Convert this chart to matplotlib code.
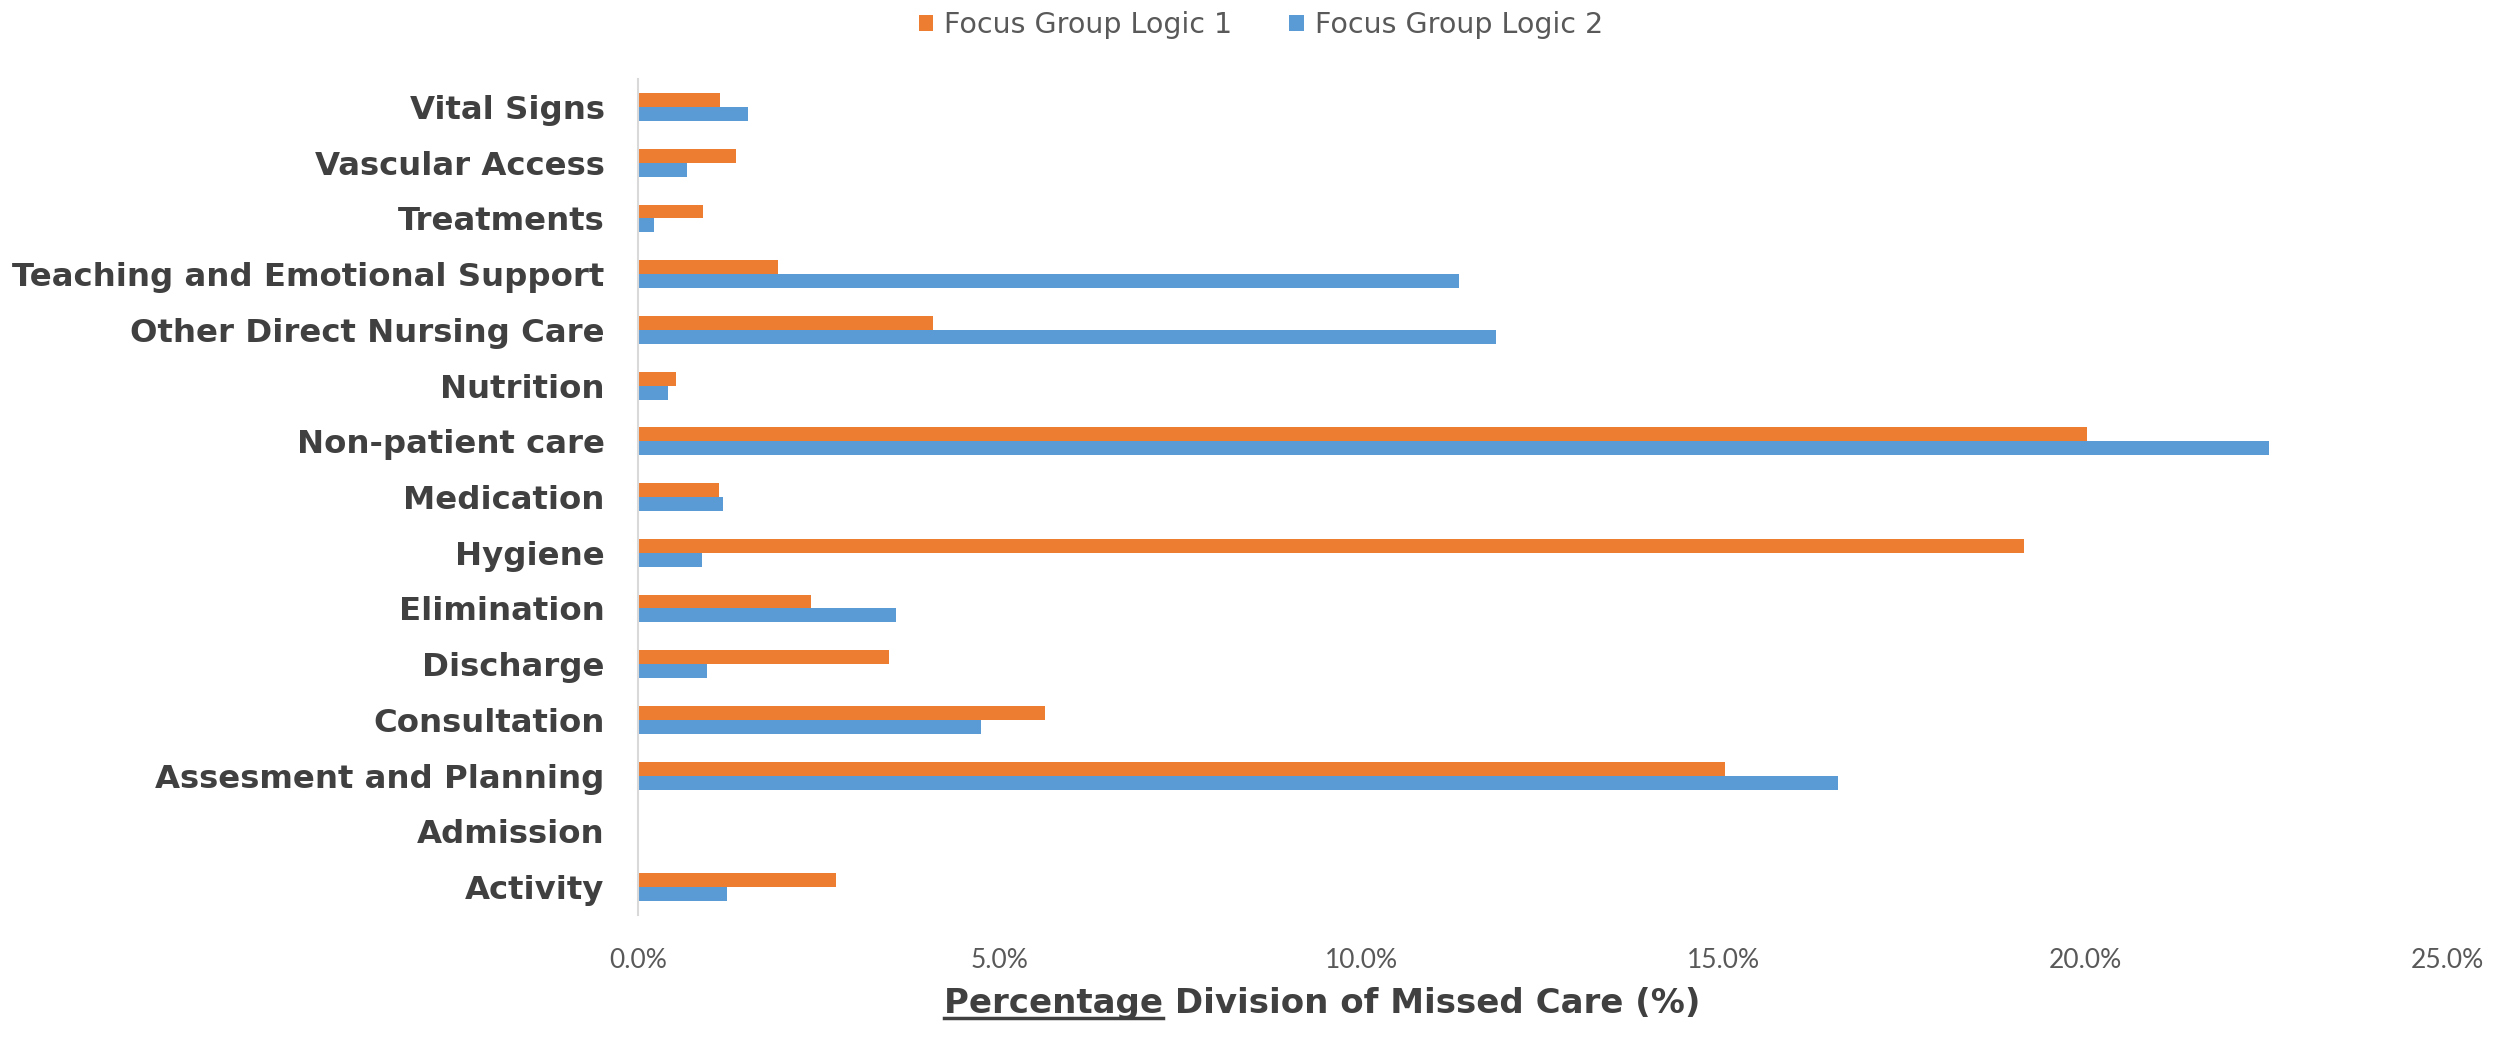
import numpy as np
import matplotlib.pyplot as plt
from matplotlib.lines import Line2D
from matplotlib.ticker import FuncFormatter

# Missed care categories, bottom to top
categories = ['Activity', 'Admission', 'Assesment and Planning', 'Consultation',
              'Discharge', 'Elimination', 'Hygiene', 'Medication',
              'Non-patient care', 'Nutrition', 'Other Direct Nursing Care',
              'Teaching and Emotional Support', 'Treatments', 'Vascular Access',
              'Vital Signs']

# share of missed care (%)
logic1 = [2.73, 0.0, 15.02, 5.62, 3.47, 2.39, 19.15, 1.12,
          20.02, 0.53, 4.07, 1.94, 0.90, 1.36, 1.14]
logic2 = [1.23, 0.0, 16.59, 4.74, 0.96, 3.57, 0.88, 1.17,
          22.54, 0.42, 11.86, 11.35, 0.22, 0.68, 1.52]

series_names = ['Focus Group Logic 1', 'Focus Group Logic 2']
xticks = [0, 5, 10, 15, 20, 25]

orange = '#ED7D31'
blue = '#5B9BD5'
dark = '#404040'
grey = '#595959'
wide_font = ['DejaVu Sans']

plt.rcParams['font.family'] = ['Lato', 'DejaVu Sans']

fig = plt.figure(figsize=(24.97, 10.42), dpi=100)
ax = fig.add_axes([0.2555, 0.122, 0.7245, 0.802])

y = np.arange(len(categories))
h = 0.25
ax.barh(y + h / 2, logic1, height=h, color=orange, label=series_names[0])
ax.barh(y - h / 2, logic2, height=h, color=blue, label=series_names[1])

ax.set_xlim(0, 25)
ax.set_ylim(-0.5, len(categories) - 0.5)
ax.set_xticks(xticks)
ax.xaxis.set_major_formatter(FuncFormatter(lambda v, p: f'{v:.1f}%'))
ax.set_yticks(y)
ax.set_yticklabels(categories, fontsize=23.3, fontweight='bold', color=dark,
                   family=wide_font)
ax.tick_params(axis='x', length=0, labelsize=19, labelcolor=grey, pad=24)
ax.tick_params(axis='y', length=0, pad=24)

for s in ['top', 'right', 'bottom']:
    ax.spines[s].set_visible(False)
ax.spines['left'].set_color('#D9D9D9')
ax.spines['left'].set_linewidth(1.5)

# axis title, centred a little left of the plot area
tsize = 24.5
title = fig.text(0.5295, 0.028, 'Percentage Division of Missed Care (%)',
                 fontsize=tsize, fontweight='bold', color=dark, family=wide_font,
                 ha='center', va='baseline')

leg = fig.legend(loc='upper center', bbox_to_anchor=(0.505, 1.014), ncol=2,
                 frameon=False, prop={'family': wide_font, 'size': 20.5},
                 handlelength=0.5, handleheight=0.5,
                 columnspacing=2.0, handletextpad=0.4)
for t in leg.get_texts():
    t.set_color(grey)

# underline the first word of the axis title
fig.canvas.draw()
r = fig.canvas.get_renderer()
full = title.get_window_extent(r)
tmp = fig.text(0, 0, 'Percentage', fontsize=tsize, fontweight='bold', family=wide_font)
w = tmp.get_window_extent(r).width
tmp.remove()
x0 = full.x0 / fig.bbox.width
x1 = (full.x0 + w) / fig.bbox.width
yl = 0.028 - 5 / fig.bbox.height
fig.add_artist(Line2D([x0, x1], [yl, yl], transform=fig.transFigure,
                      color=dark, linewidth=2.5))

fig.savefig('out.png', dpi=100)
